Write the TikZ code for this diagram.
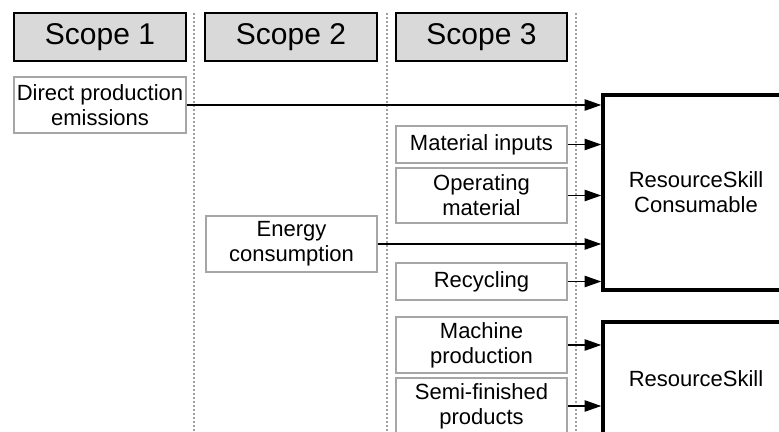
\documentclass[tikz,border=0pt]{standalone}
\usepackage{fontspec}
\setmainfont{Liberation Sans}
\usetikzlibrary{arrows.meta}
\definecolor{scopefill}{HTML}{D9D9D9}
\definecolor{itemline}{HTML}{A6A6A6}
\definecolor{sepline}{HTML}{A0A0A0}
\begin{document}
\begin{tikzpicture}[x=0.75pt,y=-0.75pt,
  scopebox/.style={draw=black,line width=1.1pt,fill=scopefill,minimum width=129pt,minimum height=36pt,
    inner sep=0pt,font=\fontsize{22.5}{27}\selectfont},
  itembox/.style={draw=itemline,line width=1.1pt,fill=white,minimum width=128.25pt,inner sep=0pt,
    align=center,font=\fontsize{16.5}{18.8}\selectfont},
  skillbox/.style={draw=black,line width=2.6pt,fill=white,inner sep=0pt,align=center,
    font=\fontsize{16.5}{18.8}\selectfont},
  separator/.style={draw=sepline,line width=2pt,dash pattern=on 1.7pt off 1.3pt},
  feed/.style={draw=black,line width=1.1pt,-{Triangle[length=12.5pt,width=8.5pt]}}]
\useasboundingbox (0,0) rectangle (779,432);
\clip (0,0) rectangle (779,432);

% column separators
\draw[separator] (194,13) -- (194,432);
\draw[separator] (387,13) -- (387,432);
\draw[separator] (576,13) -- (576,432);

% scope headers
\node[scopebox] (s1) at (100,37) {Scope 1};
\node[scopebox] (s2) at (291,37) {Scope 2};
\node[scopebox,minimum width=128.25pt] (s3) at (481.5,37) {Scope 3};

% emission sources
\node[itembox,minimum width=129pt,minimum height=42pt] (direct) at (100,105) {Direct production\\emissions};
\node[itembox,minimum height=27.75pt] (matin) at (481.5,144.5) {Material inputs};
\node[itembox,minimum height=41.25pt] (opmat) at (481.5,195.5) {Operating\\material};
\node[itembox,minimum height=42pt] (energy) at (291.5,244) {Energy\\consumption};
\node[itembox,minimum height=27.75pt] (recyc) at (481.5,281.5) {Recycling};
\node[itembox,minimum height=42pt] (machine) at (481.5,345) {Machine\\production};
\node[itembox,minimum height=42pt] (semi) at (481.5,406) {Semi-finished\\products};

% resource skills
\node[skillbox,minimum width=139.5pt,minimum height=146.25pt] (consumable) at (696,192.5) {ResourceSkill\\Consumable};
\node[skillbox,minimum width=139.5pt,minimum height=85.5pt] (skill) at (696,379) {ResourceSkill};

% flows
\foreach \src in {direct,matin,opmat,energy,recyc}
  \draw[feed] (\src.east) -- (\src.east -| consumable.west);
\foreach \src in {machine,semi}
  \draw[feed] (\src.east) -- (\src.east -| skill.west);
\end{tikzpicture}
\end{document}
